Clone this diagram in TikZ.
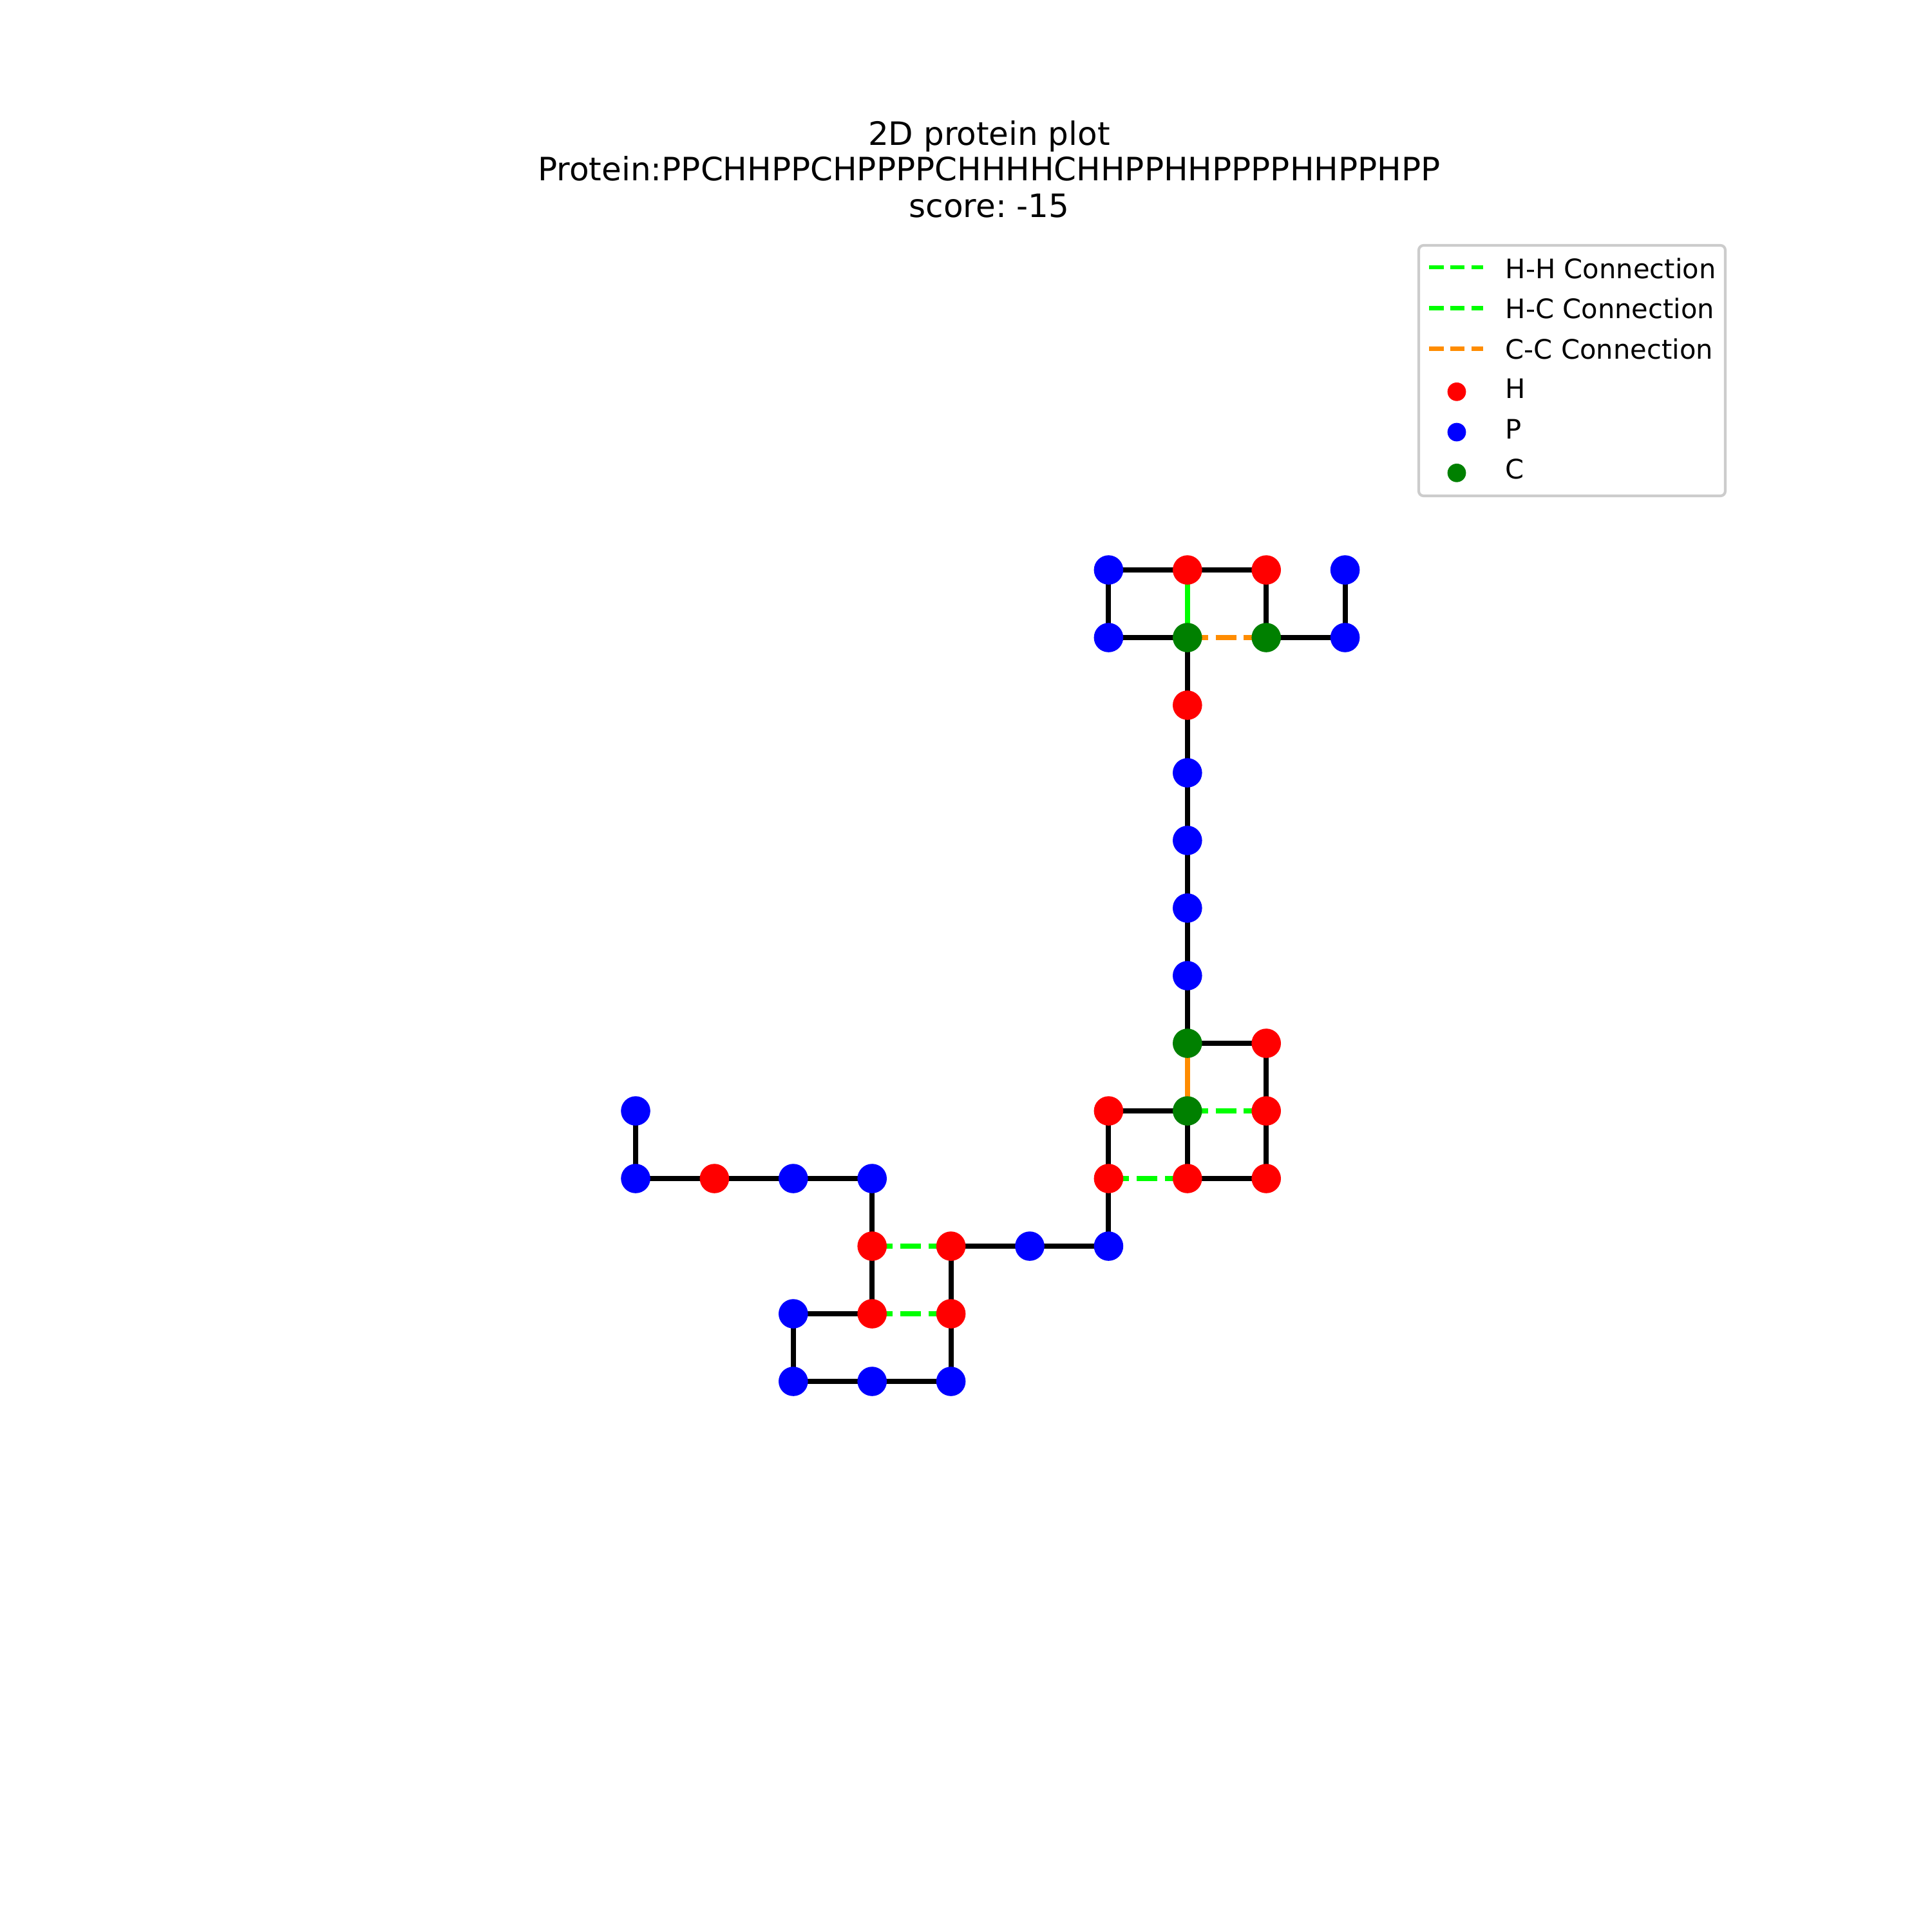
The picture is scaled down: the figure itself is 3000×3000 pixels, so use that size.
\documentclass[tikz,border=0pt]{standalone}
\usepackage{fontspec}
\setmainfont{DejaVu Sans}
\frenchspacing
\pgfdeclarelayer{bg}
\pgfsetlayers{bg,main}
\definecolor{resred}{HTML}{FF0000}
\definecolor{resblue}{HTML}{0000FF}
\definecolor{resgreen}{HTML}{008000}
\definecolor{hhlime}{HTML}{00FF00}
\definecolor{ccorange}{HTML}{FF8C00}
\definecolor{legframe}{HTML}{CCCCCC}
\tikzset{
  res/.style={circle, inner sep=0pt, minimum size=10.94pt, draw=none},
  resH/.style={res, fill=resred},
  resP/.style={res, fill=resblue},
  resC/.style={res, fill=resgreen},
  bond/.style={line width=1.9pt, black},
  hhdash/.style={line width=1.9pt, hhlime, dash pattern=on 7.7pt off 2.8pt},
  ccdash/.style={line width=1.9pt, ccorange, dash pattern=on 7.7pt off 2.8pt},
  hhsolid/.style={line width=1.9pt, hhlime},
  ccsolid/.style={line width=1.9pt, ccorange},
  legline/.style={line width=1.45pt, dash pattern=on 5.4pt off 2.5pt},
  legmark/.style={circle, inner sep=0pt, minimum size=6.9pt, draw=none},
  legtext/.style={anchor=base west, inner sep=0pt, font=\fontsize{10}{12}\selectfont},
  titletext/.style={anchor=base, inner sep=0pt, font=\fontsize{12}{14.4}\selectfont}
}
\begin{document}
\begin{tikzpicture}[x=0.24pt, y=-0.24pt]
\useasboundingbox (0,0) rectangle (3000,3000);
% title
\node[titletext] (t1) at (1536,225) {2D protein plot};
\node[titletext] (t2) at (1536,280) {Protein:PPCHHPPCHPPPPCHHHHCHHPPHHPPPPHHPPHPP};
\node[titletext] (t3) at (1536,337) {score: -15};
% residues
\foreach \k/\i/\j/\t in {
  1/9/0/P, 2/9/1/P, 3/8/1/C, 4/8/0/H, 5/7/0/H, 6/6/0/P, 7/6/1/P, 8/7/1/C,
  9/7/2/H, 10/7/3/P, 11/7/4/P, 12/7/5/P, 13/7/6/P, 14/7/7/C, 15/8/7/H, 16/8/8/H,
  17/8/9/H, 18/7/9/H, 19/7/8/C, 20/6/8/H, 21/6/9/H, 22/6/10/P, 23/5/10/P, 24/4/10/H,
  25/4/11/H, 26/4/12/P, 27/3/12/P, 28/2/12/P, 29/2/11/P, 30/3/11/H, 31/3/10/H, 32/3/9/P,
  33/2/9/P, 34/1/9/H, 35/0/9/P, 36/0/8/P}
  \node[res\t] (n\k) at ({987+122.4*\i},{885+105*\j}) {};
\begin{pgfonlayer}{bg}
  \foreach \a in {1,...,35}{
    \pgfmathtruncatemacro\b{\a+1}
    \draw[bond] (n\a.center) -- (n\b.center);
  }
  \draw[hhsolid] (n5.center) -- (n8.center);
  \draw[ccdash] (n8.center) -- (n3.center);
  \draw[ccsolid] (n14.center) -- (n19.center);
  \draw[hhdash] (n19.center) -- (n16.center);
  \draw[hhdash] (n21.center) -- (n18.center);
  \draw[hhdash] (n31.center) -- (n24.center);
  \draw[hhdash] (n30.center) -- (n25.center);
\end{pgfonlayer}
% legend
\draw[legframe, line width=1pt, fill=white, rounded corners=1.8pt] (2203,381) rectangle (2679,770);
\coordinate (la1) at (2219,415); \coordinate (lb1) at (2303,415);
\coordinate (la2) at (2219,478.5); \coordinate (lb2) at (2303,478.5);
\coordinate (la3) at (2219,541.5); \coordinate (lb3) at (2303,541.5);
\draw[legline, hhlime] (la1) -- (lb1);
\draw[legline, hhlime] (la2) -- (lb2);
\draw[legline, ccorange] (la3) -- (lb3);
\node[legtext] (l1) at (2337,432) {H-H Connection};
\node[legtext] (l2) at (2337,494.5) {H-C Connection};
\node[legtext] (l3) at (2337,557) {C-C Connection};
\node[legmark, fill=resred] (m1) at (2262,608.3) {};
\node[legmark, fill=resblue] (m2) at (2262,671) {};
\node[legmark, fill=resgreen] (m3) at (2262,734.3) {};
\node[legtext] (l4) at (2337,618.3) {H};
\node[legtext] (l5) at (2337,681.7) {P};
\node[legtext] (l6) at (2337,743) {C};
\end{tikzpicture}
\end{document}
